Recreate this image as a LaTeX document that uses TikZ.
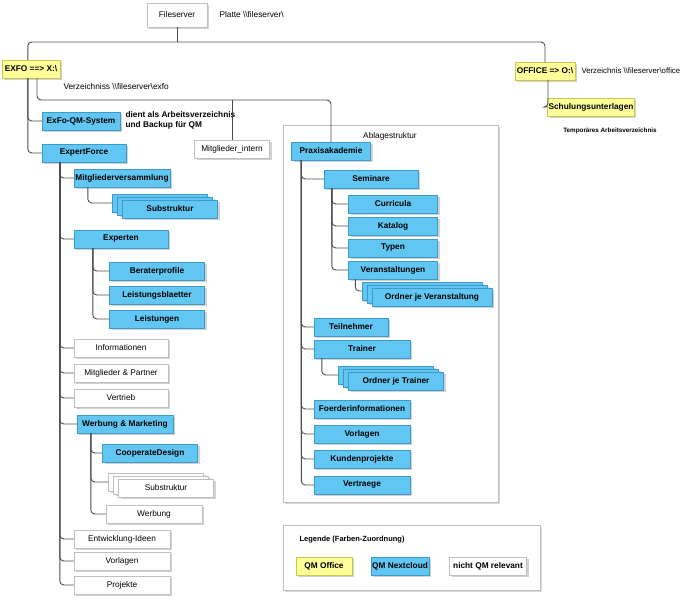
\documentclass[tikz,border=0pt]{standalone}
\usepackage{fontspec}
\setmainfont{Liberation Sans}
\usetikzlibrary{shadows}
\definecolor{qblue}{HTML}{62C6F2}
\definecolor{qblueb}{HTML}{3D9BCB}
\definecolor{qyel}{HTML}{FFFF99}
\definecolor{qyelb}{HTML}{C8C850}
\begin{document}
\begin{tikzpicture}[x=1pt,y=-1pt,
  base/.style={draw,inner sep=1pt,minimum height=18pt,minimum width=95pt,
    font=\fontsize{8.3}{10}\selectfont,drop shadow={shadow xshift=2pt,shadow yshift=-2pt,fill=black!35}},
  bl/.style={base,fill=qblue,draw=qblueb,font=\fontsize{8.3}{10}\selectfont\bfseries},
  ye/.style={base,fill=qyel,draw=qyelb,font=\fontsize{8.3}{10}\selectfont\bfseries},
  wh/.style={base,fill=white,draw=black!25},
  conn/.style={draw=black!70,line width=0.9pt,rounded corners=4pt},
  lbl/.style={font=\fontsize{8.3}{10}\selectfont},
  frame/.style={draw=black!25,fill=white,drop shadow={shadow xshift=2pt,shadow yshift=-2pt,fill=black!30}}]
\useasboundingbox (0,0) rectangle (686,600);
% frames
\path[frame] (283,125) rectangle (498,502);
\node[lbl] (abl) at (390,136) {Ablagestruktur};
\path[frame] (283,525) rectangle (540,590);
\node[lbl,font=\fontsize{7.5}{9}\selectfont\bfseries,anchor=west] (leg) at (296,540) {Legende (Farben-Zuordnung)};
% top
\node[wh,minimum width=60pt,minimum height=24pt] (fs) at (177,15) {Fileserver};
\node[lbl,anchor=west] (pl) at (216,15) {Platte \textbackslash\textbackslash fileserver\textbackslash};
\node[ye,minimum width=58pt] (exfo) at (31,69) {EXFO ==> X:\textbackslash};
\node[ye,minimum width=60pt] (off) at (545,71) {OFFICE => O:\textbackslash};
\node[lbl,anchor=west,font=\fontsize{7.8}{9}\selectfont] (offt) at (578,71) {Verzeichnis \textbackslash\textbackslash fileserver\textbackslash office};
\node[ye,minimum width=80pt] (schu) at (591,107) {Schulungsunterlagen};
\node[font=\fontsize{6.3}{7}\selectfont\bfseries] (temp) at (610,131) {Temporäres Arbeitsverzeichnis};
\node[lbl,anchor=west] (vz) at (60,87) {Verzeichniss \textbackslash\textbackslash fileserver\textbackslash exfo};
\coordinate (fork) at (177,42);
\coordinate (hub) at (232,100);
\draw[conn] (fs.south) -- (fork);
\draw[conn] ([xshift=26]exfo.north west) |- (fork);
\draw[conn] (off.north) |- (fork);
\draw[conn] ([xshift=3]off.south) |- (schu.west);
% EXFO subtree
\node[bl,minimum width=78pt] (qms) at (81,121) {ExFo-QM-System};
\node[font=\fontsize{8.3}{10}\selectfont\bfseries,align=left,anchor=west] (dient) at (122,120) {dient als Arbeitsverzeichnis\\ und Backup für QM};
\node[bl,minimum width=84pt] (ef) at (84,153) {ExpertForce};
\node[wh,minimum width=75pt] (mi) at (232,149) {Mitglieder\_intern};
\node[bl,minimum width=79pt] (pa) at (331,151) {Praxisakademie};
\draw[conn] ([xshift=26]exfo.south west) |- (qms.west);
\draw[conn] ([xshift=26]exfo.south west) |- (ef.west);
\draw[conn] ([xshift=6]exfo.south) |- (hub) -| (pa.north);
\draw[conn] (hub) -- (mi.north);
% ExpertForce children
\node[bl,minimum width=96pt] (mv) at (122,178) {Mitgliederversammlung};
\node[bl] (sub1c) at (160,203) {};
\node[bl] (sub1b) at (165,206) {};
\node[bl] (sub1) at (170,209) {Substruktur};
\node[bl,minimum width=94pt] (exp) at (121,239) {Experten};
\node[bl] (bp) at (157,271) {Beraterprofile};
\node[bl] (lb) at (157,295) {Leistungsblaetter};
\node[bl] (ls) at (157,319) {Leistungen};
\node[wh,minimum width=94pt] (inf) at (121,348) {Informationen};
\node[wh,minimum width=94pt] (mp) at (121,373) {Mitglieder \& Partner};
\node[wh,minimum width=94pt] (vt) at (121,398) {Vertrieb};
\node[bl,minimum width=96pt] (wm) at (125,424) {Werbung \& Marketing};
\node[bl] (cd) at (150,453) {CooperateDesign};
\node[wh] (sub2c) at (156,482) {};
\node[wh] (sub2b) at (161,485) {};
\node[wh] (sub2) at (166,488) {Substruktur};
\node[wh,minimum width=96pt] (wb) at (154,514) {Werbung};
\node[wh,minimum width=96pt] (ei) at (122,539) {Entwicklung-Ideen};
\node[wh,minimum width=96pt] (vl) at (122,561) {Vorlagen};
\node[wh,minimum width=96pt] (pj) at (122,585) {Projekte};
\foreach \c in {mv,exp,inf,mp,vt,wm,ei,vl,pj}
  \draw[conn] ([xshift=18]ef.south west) |- (\c.west);
\draw[conn] ([xshift=14]mv.south west) |- (sub1c.west);
\foreach \c in {bp,lb,ls}
  \draw[conn] ([xshift=19]exp.south west) |- (\c.west);
\foreach \c in {cd,sub2c,wb}
  \draw[conn] ([xshift=14]wm.south west) |- (\c.west);
% Praxisakademie children
\node[bl,minimum width=94pt] (sem) at (371,179) {Seminare};
\node[bl,minimum width=89pt] (cur) at (393,204) {Curricula};
\node[bl,minimum width=89pt] (kat) at (393,226) {Katalog};
\node[bl,minimum width=89pt] (typ) at (393,248) {Typen};
\node[bl,minimum width=89pt] (ver) at (393,270) {Veranstaltungen};
\node[bl,minimum width=120pt] (ovc) at (422,291) {};
\node[bl,minimum width=120pt] (ovb) at (427,294) {};
\node[bl,minimum width=120pt] (ov) at (432,297) {Ordner je Veranstaltung};
\node[bl,minimum width=74pt] (tn) at (351,327) {Teilnehmer};
\node[bl,minimum width=96pt] (tr) at (362,349) {Trainer};
\node[bl] (otc) at (386,375) {};
\node[bl] (otb) at (391,378) {};
\node[bl] (ot) at (396,381) {Ordner je Trainer};
\node[bl,minimum width=96pt] (fi) at (362,409) {Foerderinformationen};
\node[bl,minimum width=96pt] (pv) at (362,434) {Vorlagen};
\node[bl,minimum width=96pt] (kp) at (362,459) {Kundenprojekte};
\node[bl,minimum width=96pt] (vv) at (362,485) {Vertraege};
\foreach \c in {sem,tn,tr,fi,pv,kp,vv}
  \draw[conn] ([xshift=10]pa.south west) |- (\c.west);
\foreach \c in {cur,kat,typ,ver}
  \draw[conn] ([xshift=8]sem.south west) |- (\c.west);
\draw[conn] ([xshift=7]ver.south west) |- (ovc.west);
\draw[conn] ([xshift=8]tr.south west) |- (otc.west);
% legend
\node[ye,minimum width=56pt] (lo) at (324,566) {QM Office};
\node[bl,minimum width=56pt] (ln) at (400,566) {QM Nextcloud};
\node[wh,minimum width=77pt,font=\fontsize{8.3}{10}\selectfont\bfseries] (lw) at (488,566) {nicht QM relevant};
\end{tikzpicture}
\end{document}
